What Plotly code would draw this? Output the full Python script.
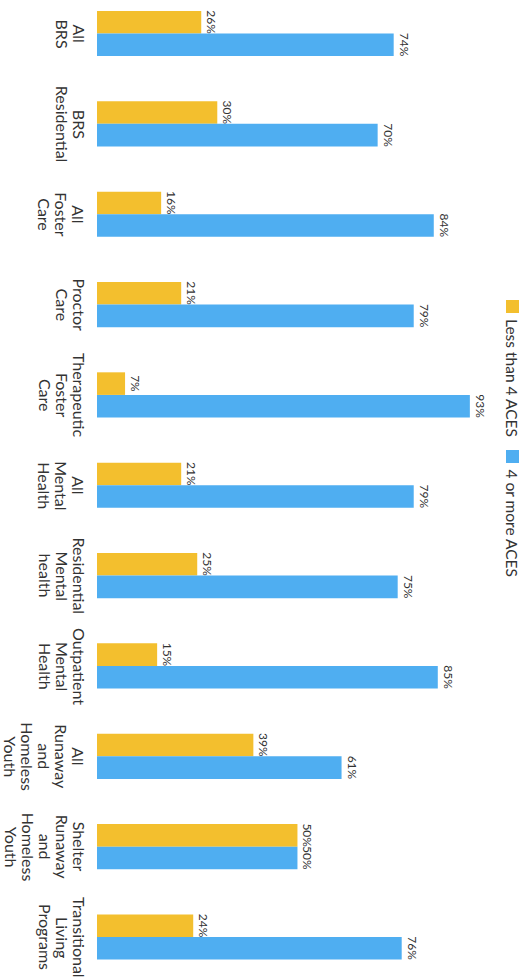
import plotly.graph_objects as go

categories = ["All BRS", "BRS Residential", "All Foster Care", "Proctor Care",
              "Therapeutic Foster Care", "All Mental Health", "Residential Mental health",
              "Outpatient Mental Health", "All Runaway and Homeless Youth",
              "Shelter Runaway and Homeless Youth", "Transitional Living Programs"]
category_lines = [["All", "BRS"], ["BRS", "Residential"], ["All", "Foster", "Care"], ["Proctor", "Care"],
                  ["Therapeutic", "Foster", "Care"], ["All", "Mental", "Health"],
                  ["Residential", "Mental", "health"], ["Outpatient", "Mental", "Health"],
                  ["All", "Runaway", "and", "Homeless", "Youth"],
                  ["Shelter", "Runaway", "and", "Homeless", "Youth"],
                  ["Transitional", "Living", "Programs"]]
less_than_4 = [26, 30, 16, 21, 7, 21, 25, 15, 39, 50, 24]
four_or_more = [74, 70, 84, 79, 93, 79, 75, 85, 61, 50, 76]
series_names = ["Less than 4 ACES", "4 or more ACES"]

YELLOW = "#F3BF2E"
BLUE = "#4FAEF1"
TEXT = "#333333"
FONT = "Lato"

L, W = 97, 433  # plot-area left edge and width in pixels


def px_to_paper(px):
    return (px - L) / W


fig = go.Figure()
for name, vals, col in [(series_names[0], less_than_4, YELLOW), (series_names[1], four_or_more, BLUE)]:
    fig.add_trace(go.Bar(
        y=categories, x=vals, orientation="h", name=name,
        marker=dict(color=col, line=dict(width=0)),
        text=[f"{v}%" for v in vals], textposition="outside", textangle=90,
        textfont=dict(family=FONT, size=12, color=TEXT),
        cliponaxis=False,
    ))

fig.update_layout(
    width=530, height=979,
    margin=dict(l=L, r=0, t=0, b=0),
    barmode="group", bargap=0.5, bargroupgap=0,
    plot_bgcolor="white", paper_bgcolor="white",
    showlegend=False,
    font=dict(family=FONT, color=TEXT),
)
fig.update_xaxes(range=[0, 108], showgrid=False, showticklabels=False, zeroline=False, showline=False)
fig.update_yaxes(range=[10.465, -0.371], showgrid=False, showticklabels=False, ticks="", showline=False)

# Rotated category labels (one annotation per text line, stacked right-to-left)
for cat, lines in zip(categories, category_lines):
    for j, line in enumerate(lines):
        fig.add_annotation(xref="paper", yref="y", x=px_to_paper(79 - 17 * j), y=cat,
                           text=line, textangle=90, showarrow=False,
                           xanchor="center", yanchor="middle", borderpad=0,
                           font=dict(family=FONT, size=16, color=TEXT))

# Rotated legend
legend_items = [(series_names[0], YELLOW, 300), (series_names[1], BLUE, 450)]
for name, col, ytop in legend_items:
    fig.add_shape(type="rect", xref="paper", yref="paper",
                  x0=px_to_paper(506), x1=px_to_paper(519),
                  y0=1 - (ytop + 13) / 979, y1=1 - ytop / 979,
                  fillcolor=col, line=dict(width=0))
    fig.add_annotation(xref="paper", yref="paper", x=px_to_paper(512), y=1 - (ytop + 17) / 979,
                       text=name, textangle=90, showarrow=False, xanchor="center", yanchor="top",
                       font=dict(family=FONT, size=15.5, color=TEXT))

fig.write_html("out.html")
